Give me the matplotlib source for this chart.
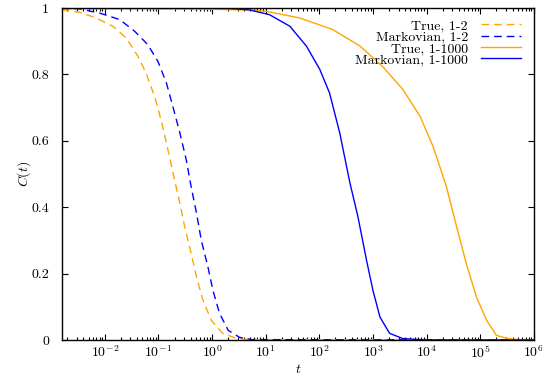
import matplotlib
matplotlib.use('Agg')
import numpy as np
import matplotlib.pyplot as plt
from matplotlib.ticker import FixedLocator, LogLocator, NullFormatter

font = {'size': 10, 'family': 'cmr10'}
matplotlib.rc('font', **font)
plt.rcParams['mathtext.fontset'] = 'cm'
plt.rcParams['axes.unicode_minus'] = False
plt.rcParams['axes.formatter.use_mathtext'] = True
plt.rcParams['lines.scale_dashes'] = False

# True, 1-2 (dashed orange)
t_true_12 = [1.58e-3, 3.4e-3, 6.9e-3, 0.0141, 0.0251, 0.0417, 0.0589, 0.0851, 0.112,
             0.151, 0.20, 0.251, 0.309, 0.407, 0.513, 0.676, 0.97, 1.58, 2.82, 5.0, 1e6]
c_true_12 = [0.995, 0.987, 0.970, 0.945, 0.910, 0.854, 0.804, 0.733, 0.663,
             0.572, 0.482, 0.412, 0.341, 0.261, 0.19, 0.12, 0.059, 0.02, 0.005, 0.001, 0.0]

# Markovian, 1-2 (dashed blue)
t_mark_12 = [1.58e-3, 3.4e-3, 7.9e-3, 0.019, 0.036, 0.063, 0.098, 0.141, 0.186, 0.251,
             0.331, 0.407, 0.513, 0.631, 0.838, 1.04, 1.38, 2.0, 3.24, 5.5, 1e6]
c_mark_12 = [0.999, 0.997, 0.985, 0.965, 0.930, 0.890, 0.839, 0.774, 0.703, 0.624,
             0.542, 0.462, 0.382, 0.300, 0.22, 0.149, 0.08, 0.029, 0.008, 0.001, 0.0]

# True, 1-1000 (solid orange)
t_true_1000 = [1.58e-3, 0.1, 1.0, 5.0, 10.2, 42.7, 178, 575, 1510, 3630, 7590, 13200,
               23400, 36300, 55000, 85100, 132000, 200000, 309000, 562000, 1e6]
c_true_1000 = [0.998, 0.997, 0.996, 0.994, 0.990, 0.970, 0.935, 0.885, 0.824, 0.754,
               0.673, 0.583, 0.462, 0.341, 0.230, 0.129, 0.059, 0.014, 0.005, 0.0, 0.0]

# Markovian, 1-1000 (solid blue)
t_mark_1000 = [1.58e-3, 0.59, 2.4, 5.0, 11.7, 28.2, 57.5, 102, 155, 240, 372, 525,
               759, 1000, 1350, 2040, 3630, 10000, 1e6]
c_mark_1000 = [1.0, 1.0, 0.998, 0.994, 0.980, 0.945, 0.885, 0.815, 0.744, 0.624,
               0.473, 0.371, 0.24, 0.149, 0.069, 0.02, 0.004, 0.0, 0.0]

labels = ['True, 1-2', 'Markovian, 1-2', 'True, 1-1000', 'Markovian, 1-1000']
x_ticks = [1e-2, 1e-1, 1e0, 1e1, 1e2, 1e3, 1e4, 1e5, 1e6]
y_ticks = [0, 0.2, 0.4, 0.6, 0.8, 1.0]
y_ticklabels = ['0', '0.2', '0.4', '0.6', '0.8', '1']
orange = '#ffa500'
blue = '#0000ff'

fig = plt.figure(figsize=(5.42, 3.79), dpi=100)
ax = fig.add_axes([0.114, 0.103, 0.871, 0.876])

ax.plot(t_true_12, c_true_12, color=orange, linewidth=1.0, dashes=(5.5, 3.6),
        label=labels[0])
ax.plot(t_mark_12, c_mark_12, color=blue, linewidth=1.0, dashes=(5.5, 3.6),
        label=labels[1])
ax.plot(t_true_1000, c_true_1000, color=orange, linewidth=1.0, label=labels[2])
ax.plot(t_mark_1000, c_mark_1000, color=blue, linewidth=1.0, label=labels[3])

ax.set_xscale('log')
ax.set_xlim(1.58e-3, 1e6)
ax.set_ylim(0, 1)
ax.xaxis.set_major_locator(FixedLocator(x_ticks))
ax.xaxis.set_minor_locator(LogLocator(base=10, subs=np.arange(2, 10), numticks=20))
ax.xaxis.set_minor_formatter(NullFormatter())
ax.set_xticklabels([r'$10^{%d}$' % int(np.log10(v)) for v in x_ticks])
ax.yaxis.set_major_locator(FixedLocator(y_ticks))
ax.set_yticklabels(y_ticklabels)
ax.tick_params(which='both', direction='in', top=True, right=True)
ax.tick_params(which='major', length=4.5, width=0.8)
ax.tick_params(which='minor', length=2.5, width=0.8)
ax.tick_params(axis='y', pad=9)
ax.tick_params(axis='x', pad=3.5)
for s in ax.spines.values():
    s.set_linewidth(1.0)

ax.set_xlabel('$t$', labelpad=1)
ax.set_ylabel('$C(t)$', labelpad=-1)

leg = ax.legend(loc='upper right', bbox_to_anchor=(0.99, 0.99), frameon=False,
                markerfirst=False, handlelength=2.9, handletextpad=0.9,
                labelspacing=-0.1, borderaxespad=0.2, fontsize=10)
for col in leg._legend_box.get_children()[-1].get_children():
    col.align = 'right'

plt.savefig('out.png', dpi=100)
